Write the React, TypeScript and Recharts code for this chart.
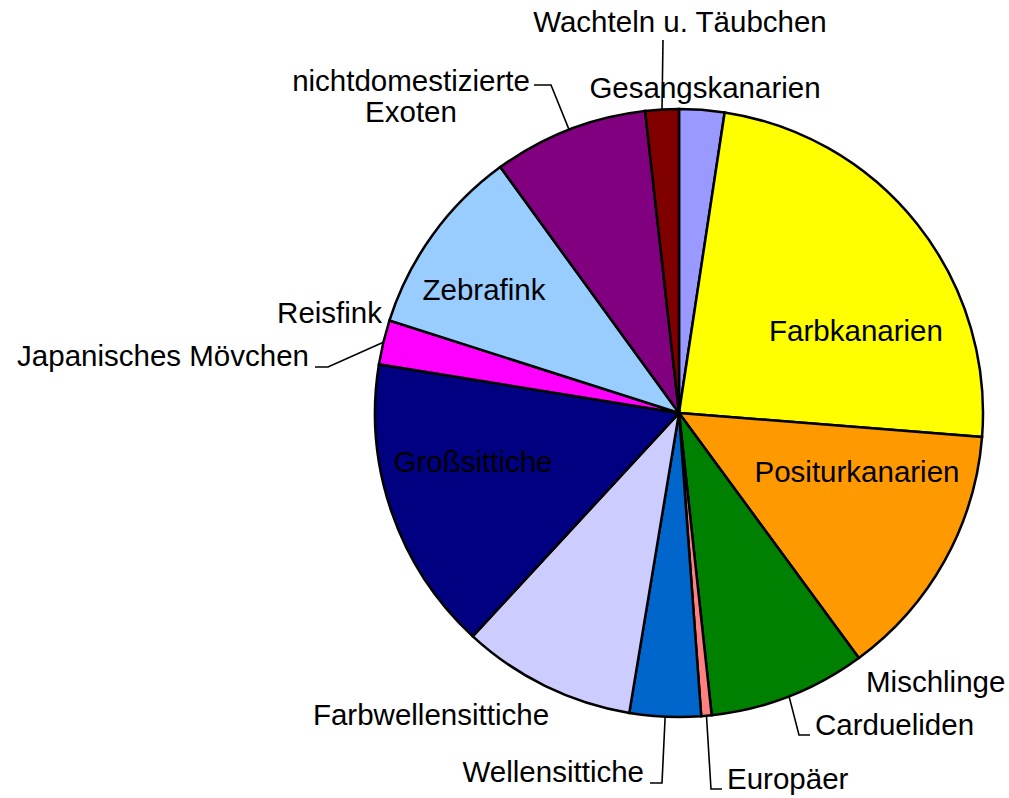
import React from "react";
import { PieChart, Pie, Cell } from "recharts";

// Anteile in Prozent, im Uhrzeigersinn ab 12 Uhr
const categories = [
  "Gesangskanarien",
  "Farbkanarien",
  "Positurkanarien",
  "Mischlinge",
  "Cardueliden",
  "Europäer",
  "Wellensittiche",
  "Farbwellensittiche",
  "Großsittiche",
  "Japanisches Mövchen",
  "Reisfink",
  "Zebrafink",
  "nichtdomestizierte Exoten",
  "Wachteln u. Täubchen",
];

const shares = [2.4, 23.85, 13.67, 0, 8.36, 0.55, 3.78, 9.25, 15.69, 2.36, 0, 10.08, 8.22, 1.78];

const colors = [
  "#9999FF",
  "#FFFF00",
  "#FF9900",
  "#FF0000",
  "#008000",
  "#FF8080",
  "#0066CC",
  "#CCCCFF",
  "#000080",
  "#FF00FF",
  "#FFFF99",
  "#99CCFF",
  "#800080",
  "#800000",
];

// label text lines (Exoten is split in two)
const labelLines = [
  ["Gesangskanarien"],
  ["Farbkanarien"],
  ["Positurkanarien"],
  ["Mischlinge"],
  ["Cardueliden"],
  ["Europäer"],
  ["Wellensittiche"],
  ["Farbwellensittiche"],
  ["Großsittiche"],
  ["Japanisches Mövchen"],
  ["Reisfink"],
  ["Zebrafink"],
  ["nichtdomestizierte", "Exoten"],
  ["Wachteln u. Täubchen"],
];

// label placement relative to pie centre: text anchor point, and leader line bends
type Layout = { dx: number; dy: number; anchor: "start" | "middle" | "end"; leader?: [number, number][] };
const labelLayout: Layout[] = [
  { dx: 26, dy: -315, anchor: "middle" },
  { dx: 177, dy: -72, anchor: "middle" },
  { dx: 178, dy: 69, anchor: "middle" },
  { dx: 187, dy: 279, anchor: "start" },
  { dx: 136, dy: 322, anchor: "start", leader: [[120, 322], [131, 322]] },
  { dx: 48, dy: 376, anchor: "start", leader: [[32, 376], [43, 376]] },
  { dx: -35, dy: 369, anchor: "end", leader: [[-17, 370], [-29, 370]] },
  { dx: -248, dy: 312, anchor: "middle" },
  { dx: -206, dy: 59, anchor: "middle" },
  { dx: -370, dy: -47, anchor: "end", leader: [[-351, -46], [-364, -46]] },
  { dx: -297, dy: -90, anchor: "end" },
  { dx: -195, dy: -113, anchor: "middle" },
  { dx: -268, dy: -322, anchor: "middle", leader: [[-128, -328], [-145, -328]] },
  { dx: 1, dy: -381, anchor: "middle", leader: [[-16, -373]] },
];

const data = categories.map((name, i) => ({ name, value: shares[i] }));

const RAD = Math.PI / 180;
const FONT = "'Liberation Sans', Arial, sans-serif";

const renderLabel = (props: any) => {
  const { cx, cy, midAngle, outerRadius, index } = props;
  const lay = labelLayout[index];
  const lines = labelLines[index];
  const ex = cx + outerRadius * Math.cos(-midAngle * RAD);
  const ey = cy + outerRadius * Math.sin(-midAngle * RAD);
  const pts = lay.leader
    ? [[ex, ey], ...lay.leader.map(([x, y]) => [cx + x, cy + y])]
    : null;
  return (
    <g key={`lbl-${index}`}>
      {pts && (
        <polyline
          points={pts.map((p) => p.join(",")).join(" ")}
          fill="none"
          stroke="#000"
          strokeWidth={1.6}
        />
      )}
      <text
        x={cx + lay.dx}
        y={cy + lay.dy}
        textAnchor={lay.anchor}
        fontFamily={FONT}
        fontSize={29.5}
        fill="#000"
      >
        {lines.map((t, j) => (
          <tspan key={j} x={cx + lay.dx} dy={j === 0 ? 0 : 31}>
            {t}
          </tspan>
        ))}
      </text>
    </g>
  );
};

export default function App() {
  return (
    <div style={{ position: "absolute", left: 0, top: 0, background: "#fff" }}>
      <PieChart width={1009} height={798} margin={{ top: 0, right: 0, bottom: 0, left: 0 }}>
        <Pie
          data={data}
          dataKey="value"
          nameKey="name"
          cx={679}
          cy={413}
          outerRadius={304}
          startAngle={90}
          endAngle={-270}
          stroke="#000"
          strokeWidth={2.5}
          label={renderLabel}
          labelLine={false}
          isAnimationActive={false}
        >
          {data.map((d, i) => (
            <Cell key={d.name} fill={colors[i]} />
          ))}
        </Pie>
      </PieChart>
    </div>
  );
}
